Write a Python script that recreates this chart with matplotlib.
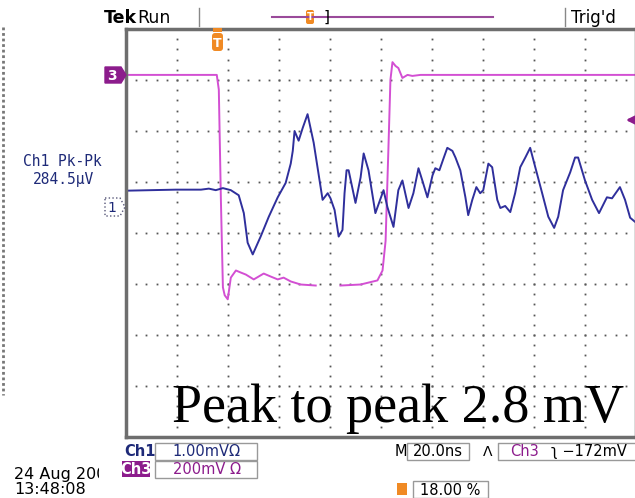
import numpy as np
import matplotlib
matplotlib.use("Agg")
import matplotlib.pyplot as plt
from matplotlib.patches import Rectangle, Polygon, FancyBboxPatch
from matplotlib.transforms import Bbox, TransformedBbox

# scope settings
t_per_div = 20.0      # ns/div
ch1_per_div = 1.0     # mV/div
ch3_per_div = 200.0   # mV/div
ch1_offset = 0.51     # ground marker position (div above centre)
ch3_offset = 3.10

# Ch1 trace (ns from left edge of screen, mV)
ch1_t = [0.4, 9.8, 19.6, 29.4, 32.5, 35.2, 38.0, 41.1, 44.2, 46.2, 47.7, 49.7, 52.8,
         56.0, 59.5, 62.6, 64.6, 65.4, 66.1, 67.7, 69.3, 71.2, 73.6, 75.1, 77.1, 79.1,
         80.2, 81.8, 83.4, 84.9, 85.7, 86.5, 87.3, 90.0, 92.0, 93.2, 95.1, 97.8, 101.0,
         102.5, 104.9, 106.8, 108.4, 110.8, 112.7, 114.7, 116.2, 118.2, 120.2, 121.3,
         122.9, 124.5, 126.0, 128.0, 129.2, 131.1, 133.1, 134.2, 135.8, 137.4, 138.9,
         140.1, 142.1, 143.6, 145.6, 146.8, 148.7, 150.7, 152.6, 154.6, 156.6, 158.5,
         160.5, 163.2, 165.6, 167.9, 169.5, 171.4, 174.2, 176.1, 177.3, 180.0, 182.8,
         185.5, 188.6, 190.6, 193.7, 195.7, 197.7, 199.6]
ch1_mv = [0.32, 0.33, 0.34, 0.34, 0.36, 0.33, 0.37, 0.33, 0.23, -0.12, -0.70, -0.93, -0.58,
          -0.19, 0.19, 0.47, 0.85, 1.10, 1.49, 1.30, 1.55, 1.82, 1.26, 0.78, 0.14, 0.27,
          0.17, -0.06, -0.58, -0.45, 0.27, 0.72, 0.72, 0.08, 0.58, 1.05, 0.72, -0.12, 0.33,
          0.00, -0.39, 0.33, 0.52, -0.02, 0.27, 0.76, 0.52, 0.19, 0.62, 0.76,
          0.72, 0.95, 1.16, 1.10, 0.97, 0.72, 0.19, -0.16, 0.14, 0.39, 0.27,
          0.33, 0.85, 0.78, 0.14, -0.02, 0.02, -0.10, 0.27, 0.78, 0.97, 1.16,
          0.78, 0.27, -0.19, -0.41, -0.19, 0.33, 0.68, 0.97, 0.97, 0.52, 0.14,
          -0.12, 0.19, 0.17, 0.39, 0.14, -0.21, -0.29]

# Ch3 trace (ns, mV), nan = gap in the record
ch3_t = [0.0, 35.6, 36.4, 37.2, 38.0, 38.7, 39.9, 41.1, 43.1, 45.0, 47.0, 50.1, 54.0,
         56.8, 59.5, 61.8, 64.6, 68.5, 74.4, 79.0, 84.1, 92.0, 98.6, 100.6, 101.8,
         102.9, 103.7, 104.5, 105.7, 106.8, 108.4, 110.4, 112.3, 115.5, 199.6]
ch3_mv = [0, 0, -58, -484, -833, -864, -880, -795, -767, -775, -783, -802, -779,
          -791, -802, -795, -810, -822, -826, np.nan, -826, -822, -806, -767, -651,
          -291, -19, 50, 35, 27, -12, 0, -4, 0, 0]

W, H = 635, 498
fig = plt.figure(figsize=(W / 100, H / 100), dpi=100)
fig.patch.set_facecolor('white')

# graticule
ax = fig.add_axes([126 / W, 1 - 437 / H, 510 / W, 408 / H])
ax.set_xlim(0, 10 * t_per_div)
ax.set_ylim(-4, 4)
ax.set_xticks([])
ax.set_yticks([])
for s in ax.spines.values():
    s.set_color('#6e6e6e')
    s.set_linewidth(2.5)

dot_y = np.arange(-4, 4.01, 0.2)
dot_x = np.arange(0, 200.1, t_per_div / 5)
for i in range(1, 10):
    ax.plot(np.full_like(dot_y, i * t_per_div), dot_y, 's', ms=1.3, color='#555555', mec='none')
for j in range(-3, 4):
    ax.plot(dot_x, np.full_like(dot_x, j), 's', ms=1.3, color='#555555', mec='none')

ax.plot(ch3_t, np.array(ch3_mv) / ch3_per_div + ch3_offset, color='#d34fd3', lw=1.4,
        solid_joinstyle='round')
ax.plot(ch1_t, np.array(ch1_mv) / ch1_per_div + ch1_offset, color='#2f2f9c', lw=1.4,
        solid_joinstyle='round')

# everything around the screen, drawn in pixel coordinates
ov = fig.add_axes([0, 0, 1, 1])
ov.set_xlim(0, W)
ov.set_ylim(H, 0)
ov.axis('off')
ov.patch.set_visible(False)

navy = '#1e2a78'
purple = '#8c1c8c'
orange = '#f08a24'
ff = 'DejaVu Sans'

ov.text(104, 18, 'Tek', fontsize=12.5, fontweight='bold', va='center', family=ff)
ov.text(137, 18, 'Run', fontsize=12.5, va='center', family=ff)
ov.plot([199, 199], [8, 26], color='#888888', lw=1)
ov.plot([565, 565], [8, 26], color='#888888', lw=1)
ov.text(571, 18, "Trig'd", fontsize=12, va='center', family=ff)
ov.plot([272, 493], [17, 17], color='#9a4a9a', lw=1.5)
ov.add_patch(FancyBboxPatch((306, 10), 8, 14, boxstyle='round,pad=0,rounding_size=2',
                            fc=orange, ec='none'))
ov.text(310, 17, 'T', color='white', fontsize=7, fontweight='bold', ha='center', va='center')
ov.text(327, 17, ']', fontsize=11, ha='center', va='center', family=ff)

# left edge strip
ov.plot([3, 3], [27, 395], color='#777777', lw=2, ls=(0, (1, 1)))

# trigger marker
ov.add_patch(FancyBboxPatch((212, 33), 11, 18, boxstyle='round,pad=0,rounding_size=3',
                            fc=orange, ec='none'))
ov.add_patch(Rectangle((213, 28), 9, 4, fc=orange, ec='none'))
ov.text(217.5, 43, 'T', color='white', fontsize=9, fontweight='bold', ha='center', va='center')

# channel markers
ov.add_patch(Polygon([(105, 67), (121, 67), (126, 75), (121, 83), (105, 83)],
                     closed=True, fc=purple, ec=purple))
ov.text(112, 75.5, '3', color='white', fontsize=10, fontweight='bold', ha='center', va='center')
ov.add_patch(Polygon([(105, 198), (120, 198), (125, 207), (120, 216), (105, 216)],
                     closed=True, fc='white', ec='#555577', lw=1, ls=':'))
ov.text(112, 207.5, '1', color=navy, fontsize=10, ha='center', va='center')

# trigger level arrow
ov.annotate('', xy=(623, 120), xytext=(642, 120),
            arrowprops=dict(arrowstyle='-|>', color=purple, lw=2, mutation_scale=12))

# measurement readout
ov.text(62, 161, 'Ch1 Pk-Pk', color=navy, fontsize=10.5, ha='center', va='center',
        family='DejaVu Sans Mono')
ov.text(63, 179, '284.5\u00b5V', color=navy, fontsize=10.5, ha='center', va='center',
        family='DejaVu Sans Mono')

# annotation
ov.text(172, 422, 'Peak to peak 2.8 mV', fontsize=39, family='Liberation Serif',
        va='baseline', ha='left')

# bottom status bar
ov.text(124, 451, 'Ch1', color=navy, fontsize=10.5, fontweight='bold', va='center', family=ff)
ov.add_patch(Rectangle((155, 443), 102, 17, fc='none', ec='#999999', lw=1))
ov.text(206, 451.5, '1.00mV\u03a9', color=navy, fontsize=10.5, ha='center', va='center', family=ff)
ov.add_patch(Rectangle((122, 461), 28, 16, fc=purple, ec='none'))
ov.text(136, 469, 'Ch3', color='white', fontsize=10.5, fontweight='bold', ha='center', va='center', family=ff)
ov.add_patch(Rectangle((155, 461), 102, 17, fc='none', ec='#999999', lw=1))
ov.text(207, 469.5, '200mV \u03a9', color=purple, fontsize=10.5, ha='center', va='center', family=ff)

ov.text(401, 451.5, 'M', fontsize=10.5, ha='center', va='center', family=ff)
ov.add_patch(Rectangle((407, 443), 62, 17, fc='none', ec='#999999', lw=1))
ov.text(438, 451.5, '20.0ns', fontsize=10.5, ha='center', va='center', family=ff)
ov.text(488, 451.5, '\u039b', fontsize=10, ha='center', va='center', family=ff)
ov.plot([640, 498, 498, 640], [443, 443, 460, 460], color='#999999', lw=1)
ov.text(510, 451.5, 'Ch3', color=purple, fontsize=10.5, va='center', family=ff)
ov.text(551, 451.5, '\u0285 \u2212172mV', fontsize=10.5, va='center', family=ff)

ov.add_patch(Rectangle((397, 483), 10, 12, fc=orange, ec='none'))
ov.add_patch(Rectangle((413, 481), 75, 17, fc='none', ec='#999999', lw=1))
ov.text(450, 490, '18.00 %', fontsize=10.5, ha='center', va='center', family=ff)

# date stamp, cut off on the right like on the screen
d = ov.text(14, 474, '24 Aug 200', fontsize=11.5, va='center', family=ff)
d.set_clip_on(True)
d.set_clip_box(TransformedBbox(Bbox([[0, 460], [99, 482]]), ov.transData))
ov.text(14, 489, '13:48:08', fontsize=11.5, va='center', family=ff)

fig.savefig('out.png', dpi=100)
